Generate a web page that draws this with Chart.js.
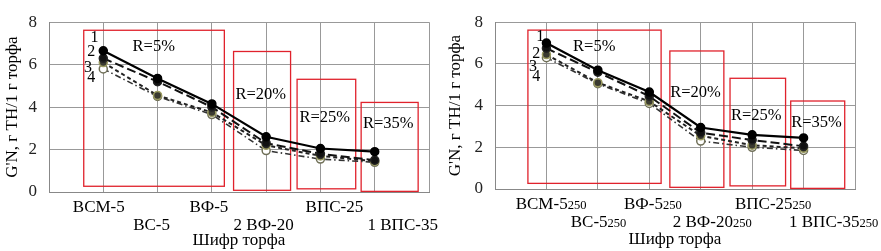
<!DOCTYPE html>
<html>
<head>
<meta charset="utf-8">
<script src="https://cdn.jsdelivr.net/npm/chart.js@4.4.1/dist/chart.umd.min.js"></script>
<style>
  html, body { margin: 0; padding: 0; background: #fff; }
  .box { position: absolute; top: 0; height: 251px; }
  #left { left: 0; width: 440px; }
  #right { left: 440px; width: 441px; }
</style>
</head>
<body>
<div class="box" id="left"><canvas id="chartLeft"></canvas></div>
<div class="box" id="right"><canvas id="chartRight"></canvas></div>
<script>
const categories = ['ВСМ-5', 'ВС-5', 'ВФ-5', '2 ВФ-20', 'ВПС-25', '1 ВПС-35'];
const rightSuffix = '250';
const yTitle = "G'N, г ТН/1 г торфа";
const xTitle = 'Шифр торфа';
const seriesNames = ['1', '2', '3', '4'];
const zoneNames = ['R=5%', 'R=20%', 'R=25%', 'R=35%'];

// left chart (ВСМ-5 ... 1 ВПС-35)
const leftS1 = [6.65, 5.35, 4.15, 2.6, 2.05, 1.9];
const leftS2 = [6.3, 5.2, 4.0, 2.3, 1.8, 1.5];
const leftS3 = [6.1, 4.55, 3.75, 2.2, 1.7, 1.45];
const leftS4 = [5.8, 4.5, 3.65, 1.95, 1.55, 1.4];

// right chart (same peat, 250 suffix)
const rightS1 = [7.0, 5.7, 4.65, 2.95, 2.6, 2.45];
const rightS2 = [6.75, 5.6, 4.45, 2.7, 2.35, 2.05];
const rightS3 = [6.45, 5.1, 4.2, 2.55, 2.1, 1.95];
const rightS4 = [6.3, 5.05, 4.1, 2.3, 2.0, 1.85];

// red frames, in axis units: [xFrom, xTo, yFrom, yTo]
const zoneBoxes = [[0.64, 3.23, 0.27, 7.62], [3.4, 4.45, 0.08, 6.62], [4.57, 5.65, 0.15, 5.31], [5.75, 6.8, 0.03, 4.22]];
const zoneTextAt = [[1.93, 6.83], [3.9, 4.6], [5.08, 3.52], [6.25, 3.2]];

const FONT = '"Liberation Serif", "Times New Roman", serif';
Chart.defaults.font.family = FONT;
Chart.defaults.font.size = 17;
Chart.defaults.color = '#000';
const labelFont = {family: FONT, size: 17};

const styles = [
  {borderColor: '#000', borderWidth: 2.2, borderDash: [], pointBackgroundColor: '#000', pointBorderColor: '#000'},
  {borderColor: '#111', borderWidth: 2, borderDash: [9, 4], pointBackgroundColor: '#111', pointBorderColor: '#222'},
  {borderColor: '#222', borderWidth: 2, borderDash: [4, 3], pointBackgroundColor: '#3a3a30', pointBorderColor: '#9a9a60'},
  {borderColor: '#333', borderWidth: 1.6, borderDash: [6, 3, 1.5, 3], pointBackgroundColor: '#fff', pointBorderColor: '#707058'}
];

const overlay = {
  id: 'overlay',
  beforeDatasetsDraw(chart) {
    const {ctx, scales: {x, y}} = chart;
    ctx.save();
    ctx.strokeStyle = '#e0222c';
    ctx.lineWidth = 1.3;
    zoneBoxes.forEach(b => {
      const x0 = x.getPixelForValue(b[0]), x1 = x.getPixelForValue(b[1]);
      const y0 = y.getPixelForValue(b[2]), y1 = y.getPixelForValue(b[3]);
      ctx.strokeRect(x0, y1, x1 - x0, y0 - y1);
    });
    ctx.restore();
  },
  afterDatasetsDraw(chart, args, opts) {
    const {ctx, scales: {x, y}} = chart;
    ctx.save();
    ctx.fillStyle = '#000';
    ctx.textAlign = 'center';
    ctx.textBaseline = 'middle';
    ctx.font = '16.5px ' + FONT;
    zoneNames.forEach((t, i) => ctx.fillText(t, x.getPixelForValue(zoneTextAt[i][0]), y.getPixelForValue(zoneTextAt[i][1])));
    ctx.font = '16px ' + FONT;
    seriesNames.forEach((t, i) => ctx.fillText(t, x.getPixelForValue(opts.numbersAt[i][0]), y.getPixelForValue(opts.numbersAt[i][1])));

    // category labels, staggered in two rows, optional small suffix
    ctx.textAlign = 'left';
    ctx.textBaseline = 'alphabetic';
    categories.forEach((c, i) => {
      ctx.font = '17px ' + FONT;
      const w1 = ctx.measureText(c).width;
      ctx.font = '12.5px ' + FONT;
      const w2 = opts.suffix ? ctx.measureText(opts.suffix).width : 0;
      const left = x.getPixelForValue(i + 1) + opts.shift[i] - (w1 + w2) / 2;
      const base = x.top + (i % 2 ? 37.5 : 20);
      ctx.font = '17px ' + FONT;
      ctx.fillText(c, left, base);
      if (opts.suffix) {
        ctx.font = '12.5px ' + FONT;
        ctx.fillText(opts.suffix, left + w1, base);
      }
    });
    ctx.restore();
  }
};

function makeChart(id, series, cfg) {
  return new Chart(id, {
    type: 'line',
    data: {
      datasets: series.map((vals, k) => ({
        label: seriesNames[k],
        data: vals.map((v, i) => ({x: i + 1, y: v})),
        ...styles[k],
        pointRadius: 4,
        pointBorderWidth: 1.5,
        tension: 0,
        fill: false
      }))
    },
    options: {
      responsive: true,
      maintainAspectRatio: false,
      animation: false,
      layout: {padding: {left: 0, right: cfg.padRight, top: cfg.padTop, bottom: 0}},
      plugins: {
        legend: {display: false},
        tooltip: {enabled: false},
        overlay: {suffix: cfg.suffix, shift: cfg.shift, numbersAt: cfg.numbersAt}
      },
      scales: {
        x: {
          type: 'linear', min: 0, max: 7,
          ticks: {display: false, stepSize: 1},
          grid: {color: '#999', lineWidth: 1, drawTicks: false},
          border: {color: '#888'},
          title: {display: true, text: xTitle, font: labelFont, color: '#000', padding: {top: 0, bottom: cfg.xTitlePad}},
          afterFit(s) { s.height = cfg.xHeight; }
        },
        y: {
          min: 0, max: 8,
          ticks: {stepSize: 2, padding: 12, font: labelFont, color: '#222'},
          grid: {color: '#999', lineWidth: 1, drawTicks: false},
          border: {color: '#888'},
          title: {display: true, text: yTitle, font: labelFont, color: '#000', padding: {top: cfg.yTitlePad, bottom: 0}},
          afterFit(s) { s.width = cfg.yWidth; }
        }
      }
    },
    plugins: [overlay]
  });
}

makeChart('chartLeft', [leftS1, leftS2, leftS3, leftS4], {
  padRight: 11, padTop: 12, xHeight: 59, yWidth: 49, yTitlePad: 2, xTitlePad: 0,
  suffix: '', shift: [-4.5, -6, -3, -2.5, 14, 28],
  numbersAt: [[0.84, 7.25], [0.78, 6.6], [0.72, 5.87], [0.78, 5.4]]
});

makeChart('chartRight', [rightS1, rightS2, rightS3, rightS4], {
  padRight: 26, padTop: 20, xHeight: 62, yWidth: 55, yTitlePad: 5, xTitlePad: 1,
  suffix: rightSuffix, shift: [4.6, 0.7, 3.5, 11.5, 21, 30],
  numbersAt: [[0.88, 7.3], [0.8, 6.5], [0.74, 5.87], [0.8, 5.4]]
});
</script>
</body>
</html>
